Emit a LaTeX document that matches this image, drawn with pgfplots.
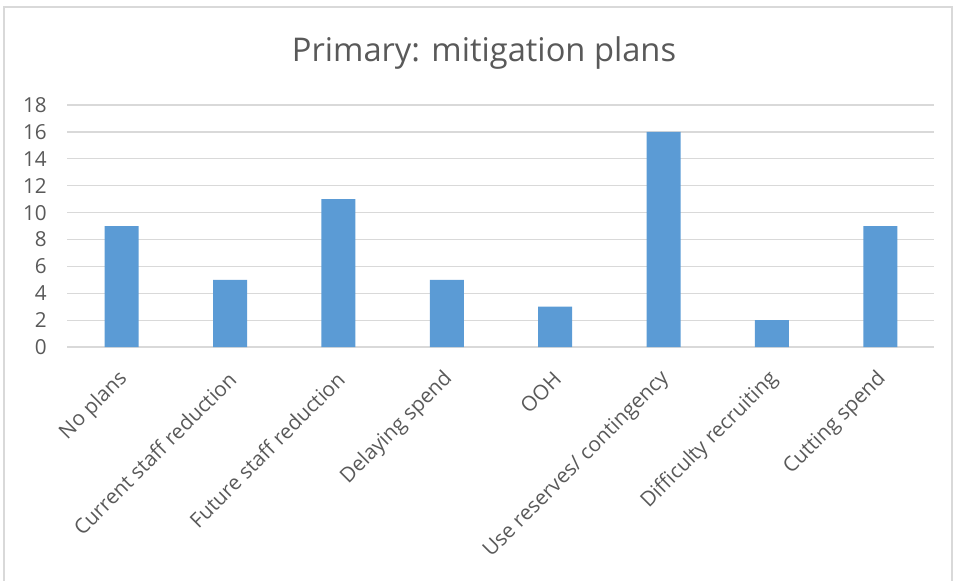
\documentclass[border=0pt]{standalone}
\usepackage{fontspec}
\setmainfont{Open Sans}
\usepackage{pgfplots}
\pgfplotsset{compat=1.18}
\definecolor{barblue}{HTML}{5B9BD5}
\definecolor{txtgray}{HTML}{595959}
\definecolor{gridgray}{HTML}{D9D9D9}
\begin{document}
\begin{tikzpicture}[x=1pt,y=1pt]
\useasboundingbox (0,0) rectangle (723,435.75);
\draw[gridgray, line width=0.9pt] (3,-2) -- (3,430.5) -- (714,430.5) -- (714,-2);
\node[txtgray, font=\fontsize{24.5}{29}\selectfont] at (363,396) {Primary: mitigation plans};
\begin{axis}[
  at={(62.25,174)}, anchor=south west,
  scale only axis, width=650.25pt, height=181.5pt,
  ymin=0, ymax=18, ytick={0,2,...,18},
  xmin=-0.5, xmax=7.5,
  xtick=data,
  xticklabels={No plans, Current staff reduction, Future staff reduction, Delaying spend, OOH, Use reserves/ contingency, Difficulty recruiting, Cutting spend},
  ybar, bar width=25.5pt,
  axis line style={draw=none},
  axis x line*=bottom,
  x axis line style={draw=gridgray, line width=0.9pt},
  ymajorgrids, grid style={gridgray, line width=0.9pt},
  major tick length=0pt,
  tick label style={txtgray, font=\fontsize{15.5}{18}\selectfont},
  /pgf/number format/assume math mode=true,
  yticklabel shift=12pt,
  yticklabel style={anchor=east},
  xticklabel style={rotate=45, anchor=east, xshift=-10.5pt, yshift=-16.5pt},
]
\addplot[fill=barblue, draw=none] coordinates {(0,9) (1,5) (2,11) (3,5) (4,3) (5,16) (6,2) (7,9)};
\end{axis}
\end{tikzpicture}
\end{document}
